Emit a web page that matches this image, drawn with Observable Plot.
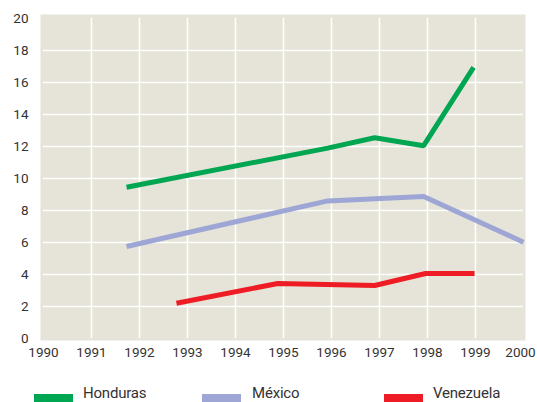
<!DOCTYPE html>
<html>
<head>
<meta charset="utf-8">
<script src="https://cdn.jsdelivr.net/npm/d3@7"></script>
<script src="https://cdn.jsdelivr.net/npm/@observablehq/plot@0.6"></script>
<style>
  html, body { margin: 0; padding: 0; background: #fff; }
  #wrap { position: relative; width: 537px; height: 402px; overflow: hidden; font-family: Roboto, "Open Sans", sans-serif; }
  .sw { position: absolute; top: 394px; height: 8px; width: 39px; }
  .lt { position: absolute; top: 386px; font-size: 15px; color: #333; line-height: 15px; letter-spacing: -0.2px; white-space: nowrap; }
</style>
</head>
<body>
<div id="wrap"></div>
<script>
const seriesNames = ["Honduras", "México", "Venezuela"];
const seriesColors = ["#00a651", "#9ea6d6", "#ee1c25"];

const hondurasYears = [1991.73, 1995.92, 1996.9, 1997.92, 1998.96];
const hondurasValues = [9.45, 11.9, 12.55, 12.05, 16.95];

const mexicoYears = [1991.73, 1995.92, 1997.92, 2000];
const mexicoValues = [5.75, 8.6, 8.88, 6.02];

const venezuelaYears = [1992.77, 1994.88, 1996.9, 1997.96, 1998.98];
const venezuelaValues = [2.2, 3.44, 3.31, 4.06, 4.06];

const xTicks = [1990, 1991, 1992, 1993, 1994, 1995, 1996, 1997, 1998, 1999];
const xTickLast = [2000];
const yTicks = [0, 2, 4, 6, 8, 10, 12, 14, 16, 18, 20];
const xGrid = [1991, 1992, 1993, 1994, 1995, 1996, 1997, 1998, 1999];
const yGrid = [2, 4, 6, 8, 10, 12, 14, 16, 18];

const toRows = (name, xs, ys) => xs.map((x, i) => ({series: name, year: x, value: ys[i]}));
const rows = [
  ...toRows("Honduras", hondurasYears, hondurasValues),
  ...toRows("México", mexicoYears, mexicoValues),
  ...toRows("Venezuela", venezuelaYears, venezuelaValues)
];

const chart = Plot.plot({
  width: 537,
  height: 372,
  marginTop: 18,
  marginBottom: 34,
  marginLeft: 43,
  marginRight: 14,
  style: {fontFamily: "Roboto, 'Open Sans', sans-serif", fontSize: "13px", color: "#333", background: "#fff"},
  x: {domain: [1990, 2000], label: null},
  y: {domain: [0, 20], label: null},
  color: {domain: seriesNames, range: seriesColors},
  marks: [
    Plot.frame({fill: "#e6e4d8", stroke: null, insetLeft: -3, insetRight: -2, insetTop: -4, insetBottom: -2}),
    Plot.gridX(xGrid, {stroke: "#fff", strokeOpacity: 1, strokeWidth: 1.6}),
    Plot.gridY(yGrid, {stroke: "#fff", strokeOpacity: 1, strokeWidth: 1.6}),
    Plot.axisX(xTicks, {tickSize: 0, tickPadding: 9, tickFormat: d => String(d), fill: "#333", fontSize: 13.5}),
    Plot.axisX(xTickLast, {tickSize: 0, tickPadding: 9, tickFormat: d => String(d), fill: "#333", fontSize: 13.5, dx: -3}),
    Plot.axisY(yTicks, {tickSize: 0, tickPadding: 15, fill: "#333", fontSize: 13.5, dy: 0.5}),
    Plot.line(rows, {x: "year", y: "value", z: "series", stroke: "series", strokeWidth: 5, strokeLinecap: "butt", strokeLinejoin: "miter"})
  ]
});

const wrap = document.getElementById("wrap");
wrap.appendChild(chart);

const legendPos = [{sw: 34, tx: 83}, {sw: 202, tx: 252}, {sw: 384, tx: 433}];
seriesNames.forEach((name, i) => {
  const sw = document.createElement("div");
  sw.className = "sw";
  sw.style.left = legendPos[i].sw + "px";
  sw.style.background = seriesColors[i];
  wrap.appendChild(sw);
  const t = document.createElement("div");
  t.className = "lt";
  t.style.left = legendPos[i].tx + "px";
  t.textContent = name;
  wrap.appendChild(t);
});
</script>
</body>
</html>
